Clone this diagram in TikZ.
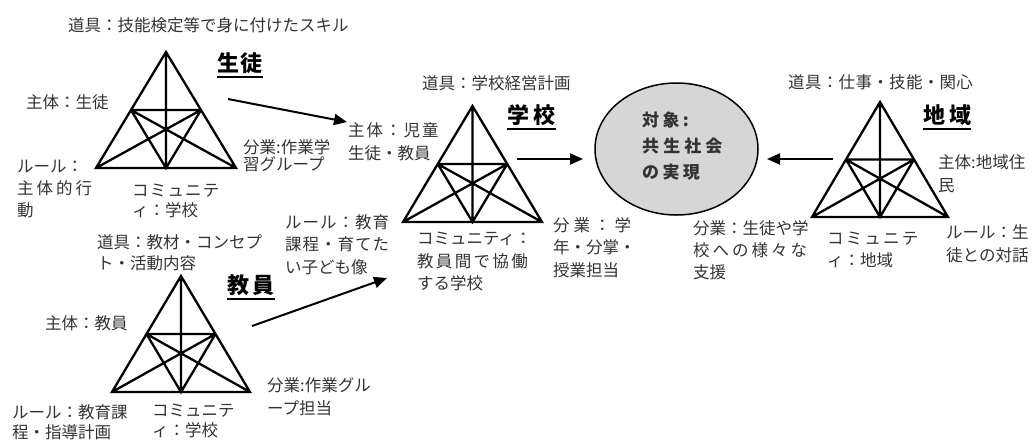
\documentclass[tikz,border=0pt]{standalone}
\usepackage{fontspec}
\newfontfamily\jp{Noto Sans CJK JP}
\usetikzlibrary{arrows.meta,shapes.geometric}
\definecolor{txt}{HTML}{333333}
\definecolor{ellfill}{HTML}{D6D6D6}
\tikzset{
 lbl/.style={font=\jp\fontsize{16.5}{21}\selectfont, text=txt, align=left, inner sep=0pt, anchor=north west},
 ttl/.style={font=\jp\bfseries\fontsize{22}{24}\selectfont, inner sep=0pt, anchor=north west},
 tri/.style={line width=2.3pt, line join=miter},
 arr/.style={line width=2pt, -{Triangle[length=13pt,width=11pt]}},
 uline/.style={line width=1.6pt},
}
\newcommand\LS[2]{{\addfontfeature{LetterSpace=#1}#2}}
\newcommand\acttri[4]{%
 \draw[tri] (#1,#2) -- (#1-#3,#4) -- (#1+#3,#4) -- cycle
 (#1,#2) -- (#1,#4)
 (#1-#3/2,{(#2+#4)/2}) -- (#1+#3/2,{(#2+#4)/2})
 (#1-#3,#4) -- (#1+#3/2,{(#2+#4)/2})
 (#1+#3,#4) -- (#1-#3/2,{(#2+#4)/2})
 (#1-#3/2,{(#2+#4)/2}) -- (#1,#4) -- (#1+#3/2,{(#2+#4)/2});
}
\begin{document}
\begin{tikzpicture}[x=1pt,y=-1pt]
\useasboundingbox (0,0) rectangle (1034,440);
% triangles
\acttri{166}{52}{70}{168}
\acttri{181}{276}{69}{392}
\acttri{472.5}{106}{69.5}{222}
\acttri{880}{102}{68}{217}
% object ellipse
\node[ellipse, draw, fill=ellfill, line width=1.5pt, minimum width=163pt, minimum height=132pt, inner sep=0pt] (obj) at (676.5,149) {};
\node[font=\jp\bfseries\fontsize{17}{26}\selectfont, align=left, inner sep=0pt, anchor=north west, text=txt] (objtxt) at (642,112) {\LS{20}{対象:}\\\LS{24}{共生社会}\\\LS{20}{の実現}};
% arrows
\coordinate (a1s) at (228,99); \coordinate (a1e) at (347,122);
\coordinate (a2s) at (252,326); \coordinate (a2e) at (387,278);
\coordinate (a3s) at (517,159); \coordinate (a3e) at (583,159);
\coordinate (a4s) at (833,159); \coordinate (a4e) at (767,159);
\draw[arr] (a1s) -- (a1e);
\draw[arr] (a2s) -- (a2e);
\draw[arr] (a3s) -- (a3e);
\draw[arr] (a4s) -- (a4e);
% triangle 1: students
\node[lbl] (tool1) at (68,17) {道具：技能検定等で身に付けたスキル};
\node[ttl] (ttl1) at (217,52.5) {\LS{5}{生徒}};
\draw[uline] ([yshift=-3pt]ttl1.south west) -- ([yshift=-3pt]ttl1.south east);
\node[lbl] (subj1) at (26,94) {主体：生徒};
\node[lbl, font=\jp\fontsize{16.5}{17.5}\selectfont] (div1) at (243,139) {分業:作業学\\習グループ};
\node[lbl, font=\jp\fontsize{16.5}{22}\selectfont] (rule1) at (17,160) {ルール：\\\LS{18}{主体的行}\\動};
\node[lbl, font=\jp\fontsize{16.5}{20}\selectfont] (com1) at (132,184) {\LS{7}{コミュニテ}\\ィ：学校};
% triangle 2: teachers
\node[lbl, font=\jp\fontsize{16.5}{21}\selectfont] (tool2) at (97,234) {道具：教材・コンセプ\\ト・活動内容};
\node[ttl] (ttl2) at (227,274.5) {\LS{16}{教員}};
\draw[uline] ([yshift=-3pt]ttl2.south west) -- ([yshift=-3pt]ttl2.south east);
\node[lbl] (subj2) at (45,315) {主体：教員};
\node[lbl, font=\jp\fontsize{16.5}{23}\selectfont] (div2) at (267,377) {分業:作業グル\\ープ担当};
\node[lbl, font=\jp\fontsize{16.5}{20}\selectfont] (rule2) at (12,404) {ルール：教育課\\程・指導計画};
\node[lbl, font=\jp\fontsize{16.5}{20}\selectfont] (com2) at (152,404) {コミュニテ\\ィ：学校};
% triangle 3: school
\node[lbl] (tool3) at (422,75) {道具：学校経営計画};
\node[ttl] (ttl3) at (507,104.5) {\LS{20}{学校}};
\draw[uline] ([yshift=-3pt]ttl3.south west) -- ([yshift=-3pt]ttl3.south east);
\node[lbl, font=\jp\fontsize{16.5}{23}\selectfont] (subj3) at (348,122) {\LS{12}{主体：児童}\\生徒・教員};
\node[lbl, font=\jp\fontsize{16.5}{22.5}\selectfont] (rule3) at (285,214) {\LS{6}{ルール：教育}\\\LS{6}{課程・育てた}\\い子ども像};
\node[lbl, font=\jp\fontsize{16.5}{22.5}\selectfont] (com3) at (417,232) {コミュニティ：\\\LS{14}{教員間で協働}\\する学校};
\node[lbl, font=\jp\fontsize{16.5}{22.5}\selectfont] (div3) at (553,217) {\LS{24}{分業：学}\\年・分掌・\\授業担当};
% triangle 4: community
\node[lbl] (tool4) at (788,74) {\LS{2}{道具：仕事・技能・関心}};
\node[ttl] (ttl4) at (923,104.5) {\LS{18}{地域}};
\draw[uline] ([yshift=-3pt]ttl4.south west) -- ([yshift=-3pt]ttl4.south east);
\node[lbl, font=\jp\fontsize{16.5}{23}\selectfont] (subj4) at (938,154) {主体:地域住\\民};
\node[lbl, font=\jp\fontsize{16.5}{22}\selectfont] (div4) at (693,220) {分業：生徒や学\\\LS{18}{校への様々な}\\支援};
\node[lbl, font=\jp\fontsize{16.5}{22}\selectfont] (com4) at (827,232) {\LS{13}{コミュニテ}\\ィ：地域};
\node[lbl, font=\jp\fontsize{16.5}{23}\selectfont] (rule4) at (946,224) {ルール：生\\徒との対話};
\end{tikzpicture}
\end{document}
